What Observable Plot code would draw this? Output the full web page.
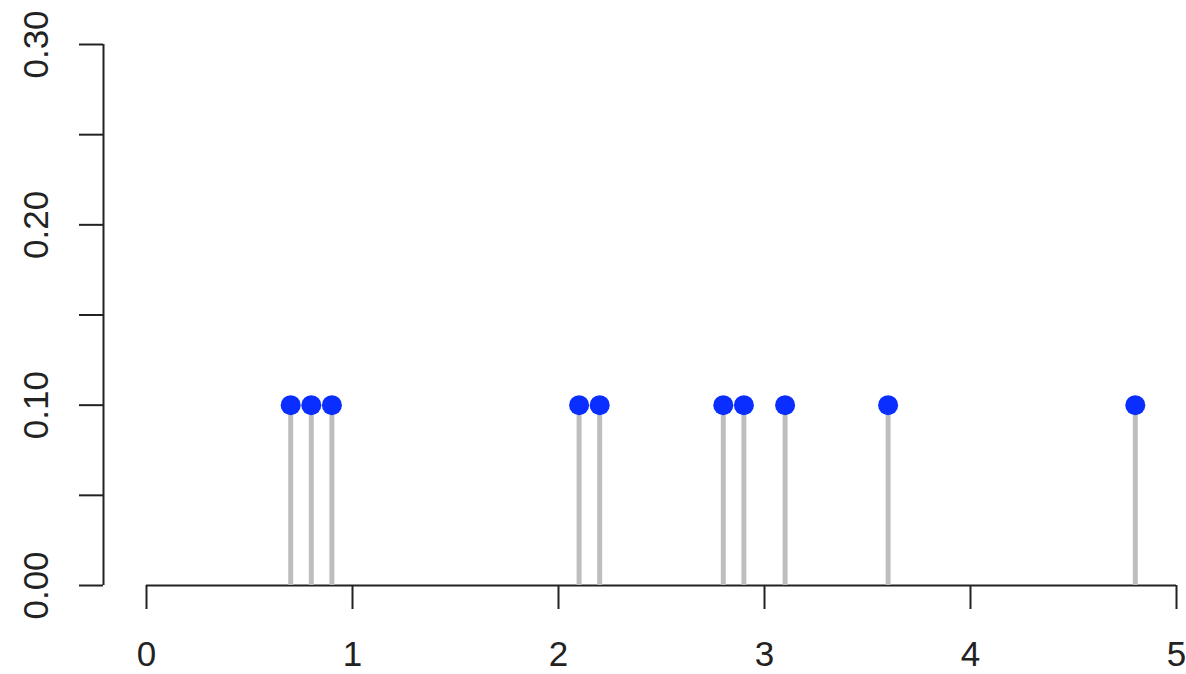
<!DOCTYPE html>
<html>
<head>
<meta charset="utf-8">
<script src="https://cdn.jsdelivr.net/npm/d3@7"></script>
<script src="https://cdn.jsdelivr.net/npm/@observablehq/plot@0.6"></script>
<style>
  html, body { margin: 0; padding: 0; background: white; }
  #chart { width: 1186px; height: 674px; overflow: hidden; }
</style>
</head>
<body>
<div id="chart"></div>
<script>
const xValues = [0.7, 0.8, 0.9, 2.1, 2.2, 2.8, 2.9, 3.1, 3.6, 4.8];
const yValues = [0.1, 0.1, 0.1, 0.1, 0.1, 0.1, 0.1, 0.1, 0.1, 0.1];
const xTicks = [0, 1, 2, 3, 4, 5];
const yTicks = [0, 0.05, 0.1, 0.15, 0.2, 0.25, 0.3];
const yLabels = [0, 0.1, 0.2, 0.3];

const data = xValues.map((x, i) => ({x, y: yValues[i]}));
const axisColor = "#222";

const chart = Plot.plot({
  width: 1186,
  height: 674,
  marginLeft: 146,
  marginRight: 10,
  marginTop: 44,
  marginBottom: 89,
  x: {domain: [0, 5], axis: null, label: null},
  y: {domain: [0, 0.3], axis: null, label: null},
  style: {fontFamily: "'Liberation Sans', Arial, Helvetica, sans-serif", background: "white", color: axisColor},
  marks: [
    // x axis
    Plot.ruleY([0], {x1: xTicks[0], x2: xTicks[xTicks.length - 1], stroke: axisColor, strokeWidth: 2}),
    Plot.axisX({ticks: xTicks, tickSize: 24, tickPadding: 32, tickFormat: d => String(d), fontSize: 35, stroke: axisColor, strokeWidth: 2, fill: axisColor, label: null}),
    // y axis
    Plot.ruleX([0], {y1: yTicks[0], y2: yTicks[yTicks.length - 1], dx: -43, stroke: axisColor, strokeWidth: 2}),
    Plot.axisY({ticks: yTicks, tickSize: 24, dx: -43, tickFormat: () => "", stroke: axisColor, strokeWidth: 2, label: null}),
    Plot.text(yLabels, {y: d => d, text: d => d.toFixed(2), frameAnchor: "left", dx: -99, rotate: -90, lineAnchor: "bottom", textAnchor: "middle", fontSize: 35, fill: axisColor}),
    // stems
    Plot.ruleX(data, {x: "x", y1: 0, y2: "y", stroke: "#bebebe", strokeWidth: 5}),
    // points
    Plot.dot(data, {x: "x", y: "y", r: 10, fill: "#0a2eff", stroke: "none"})
  ]
});
document.getElementById("chart").appendChild(chart);
</script>
</body>
</html>
